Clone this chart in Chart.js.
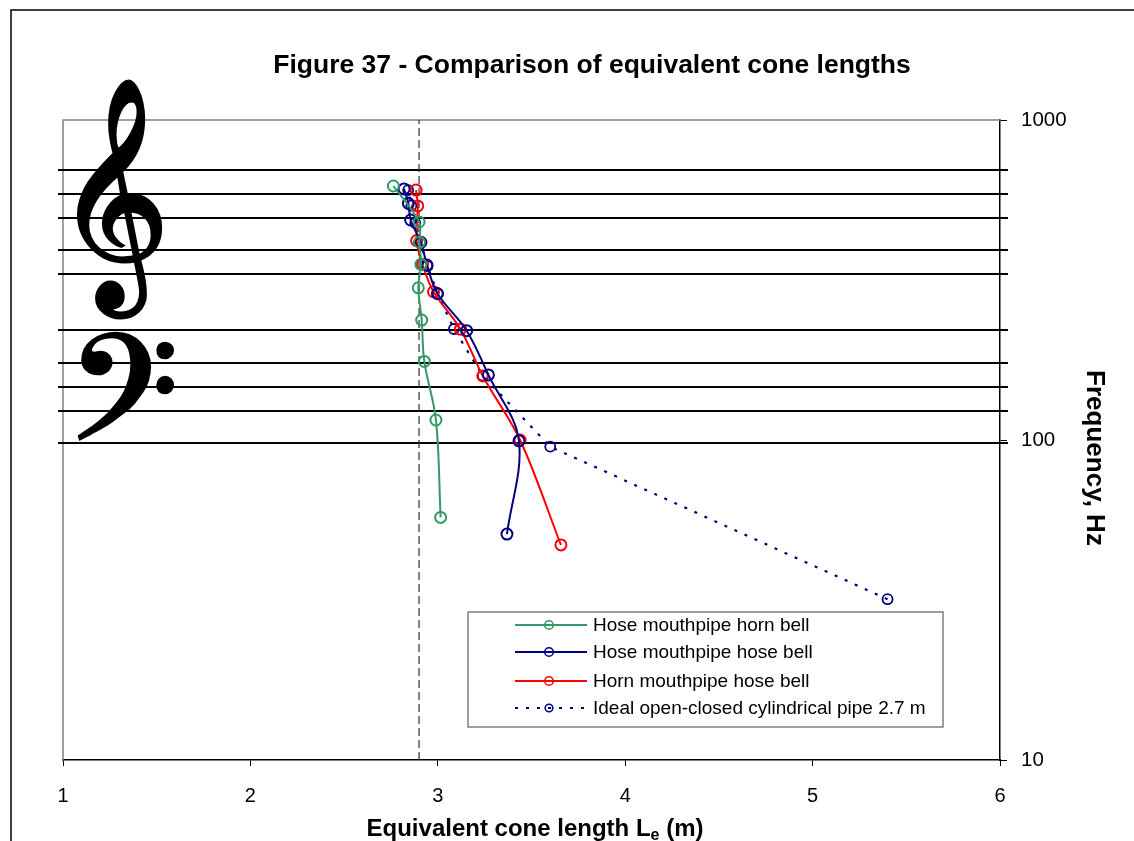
<!DOCTYPE html>
<html>
<head>
<meta charset="utf-8">
<script src="https://cdn.jsdelivr.net/npm/chart.js@4"></script>
<style>
  body { margin: 0; background: #fff; }
  canvas { display: block; }
</style>
</head>
<body>
<canvas id="coneChart" width="1134" height="841"></canvas>
<script>
// data (length in m, frequency in Hz)
const hornBellLength = [2.763, 2.900, 2.902, 2.910, 2.896, 2.914, 2.928, 2.990, 3.015];
const hornBellFreq = [622, 480, 415, 354, 299, 237, 176, 115.5, 57.3];

const hoseBellLength = [2.820, 2.843, 2.855, 2.910, 2.942, 2.998, 3.154, 3.270, 3.433, 3.369];
const hoseBellFreq = [609, 549, 487, 415, 352, 287, 219.6, 159.7, 99.4, 50.8];

const hornMouthLength = [2.884, 2.893, 2.887, 2.918, 2.977, 3.121, 3.240, 3.439, 3.657];
const hornMouthFreq = [604, 539, 420, 354, 290.6, 222, 158.5, 100, 47.0];

const idealLength = [5.40, 3.60, 3.24, 3.086, 3.00, 2.945, 2.908, 2.880, 2.859, 2.842];
const idealFreq = [31.8, 95.3, 158.8, 222.3, 285.8, 349.3, 412.8, 476.4, 540, 603.5];

const refLength = 2.9;

// staff lines (E-G-B-D-F treble, G-B-D-F-A bass)
const staffFreq = [698.5, 587.3, 493.9, 392, 329.6, 220, 174.6, 146.8, 123.5, 98];

const xTicks = [1, 2, 3, 4, 5, 6];
const yTicks = [10, 100, 1000];

const seriesLabels = [
    "Hose mouthpipe horn bell",
    "Hose mouthpipe hose bell",
    "Horn mouthpipe hose bell",
    "Ideal open-closed cylindrical pipe 2.7 m"
];

const FONT = '"Liberation Sans", Arial, sans-serif';

function toPoints(xs, ys) {
    return xs.map((x, i) => ({ x: x, y: ys[i] }));
}

function series(label, xs, ys, color, extra) {
    return Object.assign({
        label: label,
        data: toPoints(xs, ys),
        showLine: true,
        borderColor: color,
        borderWidth: 2,
        tension: 0.35,
        pointStyle: "circle",
        pointRadius: 5.5,
        pointBorderWidth: 2,
        pointBorderColor: color,
        pointBackgroundColor: "rgba(0,0,0,0)"
    }, extra || {});
}

function drawGlyph(ctx, ch, bx, by, bw, bh) {
    ctx.save();
    ctx.font = '100px "DejaVu Sans", "DejaVu Serif", "Noto Sans", sans-serif';
    const m = ctx.measureText(ch);
    const w = m.actualBoundingBoxLeft + m.actualBoundingBoxRight;
    const h = m.actualBoundingBoxAscent + m.actualBoundingBoxDescent;
    ctx.translate(bx, by);
    ctx.scale(bw / w, bh / h);
    ctx.fillStyle = "#000";
    ctx.strokeStyle = "#000";
    ctx.lineWidth = 1.5;
    ctx.textBaseline = "alphabetic";
    ctx.textAlign = "left";
    ctx.fillText(ch, m.actualBoundingBoxLeft, m.actualBoundingBoxAscent);
    ctx.strokeText(ch, m.actualBoundingBoxLeft, m.actualBoundingBoxAscent);
    ctx.restore();
}

const staffPlugin = {
    id: "staff",
    beforeDatasetsDraw(chart) {
        const ctx = chart.ctx;
        const area = chart.chartArea;
        const yScale = chart.scales.y;

        ctx.save();
        // outer frame
        ctx.strokeStyle = "#000";
        ctx.lineWidth = 1.5;
        ctx.beginPath();
        ctx.moveTo(11, 841);
        ctx.lineTo(11, 10);
        ctx.lineTo(1134, 10);
        ctx.stroke();

        // grey plot border top / left
        ctx.strokeStyle = "#808080";
        ctx.lineWidth = 1.5;
        ctx.beginPath();
        ctx.moveTo(area.left, area.bottom);
        ctx.lineTo(area.left, area.top);
        ctx.lineTo(area.right, area.top);
        ctx.stroke();

        // staff lines
        ctx.strokeStyle = "#000";
        ctx.lineWidth = 2;
        staffFreq.forEach(f => {
            const y = Math.round(yScale.getPixelForValue(f));
            ctx.beginPath();
            ctx.moveTo(area.left - 5, y);
            ctx.lineTo(area.right + 8, y);
            ctx.stroke();
        });
        ctx.restore();

        drawGlyph(ctx, "\u{1D11E}", 78, 82, 84, 236);
        drawGlyph(ctx, "\u{1D122}", 78, 332, 95, 108);
    },
    afterDraw(chart) {
        const ctx = chart.ctx;
        ctx.save();

        // title
        ctx.fillStyle = "#000";
        ctx.font = "bold 26.5px " + FONT;
        ctx.textAlign = "center";
        ctx.textBaseline = "middle";
        ctx.fillText("Figure 37 - Comparison of equivalent cone lengths", 592, 66);

        // x axis title with subscript
        const p1 = "Equivalent cone length L";
        const p3 = " (m)";
        ctx.font = "bold 24px " + FONT;
        const w1 = ctx.measureText(p1).width;
        const w3 = ctx.measureText(p3).width;
        ctx.font = "bold 16px " + FONT;
        const w2 = ctx.measureText("e").width;
        const x0 = 535 - (w1 + w2 + w3) / 2;
        ctx.textAlign = "left";
        ctx.textBaseline = "alphabetic";
        ctx.font = "bold 24px " + FONT;
        ctx.fillText(p1, x0, 836);
        ctx.font = "bold 16px " + FONT;
        ctx.fillText("e", x0 + w1, 840);
        ctx.font = "bold 24px " + FONT;
        ctx.fillText(p3, x0 + w1 + w2, 836);

        // y axis title
        ctx.save();
        ctx.translate(1094, 458);
        ctx.rotate(Math.PI / 2);
        ctx.textAlign = "center";
        ctx.textBaseline = "middle";
        ctx.font = "bold 26px " + FONT;
        ctx.fillText("Frequency, Hz", 0, 0);
        ctx.restore();

        // legend
        const lx = 468, ly = 612, lw = 475, lh = 115;
        ctx.fillStyle = "#fff";
        ctx.fillRect(lx, ly, lw, lh);
        ctx.strokeStyle = "#808080";
        ctx.lineWidth = 1.5;
        ctx.strokeRect(lx, ly, lw, lh);

        const rows = [625, 652, 681, 708];
        chart.data.datasets.slice(0, 4).forEach((ds, i) => {
            const y = rows[i];
            ctx.strokeStyle = ds.borderColor;
            ctx.lineWidth = ds.borderWidth;
            ctx.setLineDash(ds.borderDash || []);
            ctx.beginPath();
            ctx.moveTo(515, y);
            ctx.lineTo(587, y);
            ctx.stroke();
            ctx.setLineDash([]);
            ctx.lineWidth = 1.6;
            ctx.beginPath();
            ctx.arc(549, y, i === 3 ? 3.8 : 4.3, 0, Math.PI * 2);
            ctx.stroke();
            ctx.fillStyle = "#000";
            ctx.font = "19px " + FONT;
            ctx.textAlign = "left";
            ctx.textBaseline = "middle";
            ctx.fillText(ds.label, 593, y + 1);
        });
        ctx.restore();
    }
};

new Chart(
    document.getElementById("coneChart"),
    {
        type: "scatter",
        data: {
            datasets: [
                series(seriesLabels[0], hornBellLength, hornBellFreq, "#339966"),
                series(seriesLabels[1], hoseBellLength, hoseBellFreq, "#000080"),
                series(seriesLabels[2], hornMouthLength, hornMouthFreq, "#ff0000"),
                series(seriesLabels[3], idealLength, idealFreq, "#000080", {
                    borderWidth: 2.2,
                    borderDash: [3, 8],
                    tension: 0,
                    pointRadius: 5,
                    pointBorderWidth: 1.8
                }),
                {
                    label: "ref",
                    data: [{ x: refLength, y: 10 }, { x: refLength, y: 1000 }],
                    showLine: true,
                    borderColor: "#303030",
                    borderWidth: 1.2,
                    borderDash: [8, 4],
                    pointRadius: 0
                }
            ]
        },
        options: {
            responsive: false,
            animation: false,
            layout: { padding: { left: 63, top: 120, right: 0, bottom: 0 } },
            plugins: {
                legend: { display: false },
                tooltip: { enabled: false }
            },
            scales: {
                x: {
                    type: "linear",
                    min: 1,
                    max: 6,
                    afterBuildTicks: s => { s.ticks = xTicks.map(v => ({ value: v })); },
                    afterFit: s => { s.height = 81; },
                    grid: { drawOnChartArea: false, color: "#000", tickLength: 6 },
                    border: { color: "#000", width: 1.5 },
                    ticks: {
                        color: "#000",
                        padding: 18,
                        maxRotation: 0,
                        font: { family: FONT, size: 20 }
                    }
                },
                y: {
                    type: "logarithmic",
                    position: "right",
                    min: 10,
                    max: 1000,
                    afterBuildTicks: s => { s.ticks = yTicks.map(v => ({ value: v })); },
                    afterFit: s => { s.width = 134; },
                    grid: { drawOnChartArea: false, color: "#000", tickLength: 7 },
                    border: { color: "#000", width: 1.5 },
                    ticks: {
                        color: "#000",
                        padding: 14,
                        callback: v => String(v),
                        font: { family: FONT, size: 20.5 }
                    }
                }
            }
        },
        plugins: [staffPlugin]
    }
);
</script>
</body>
</html>
